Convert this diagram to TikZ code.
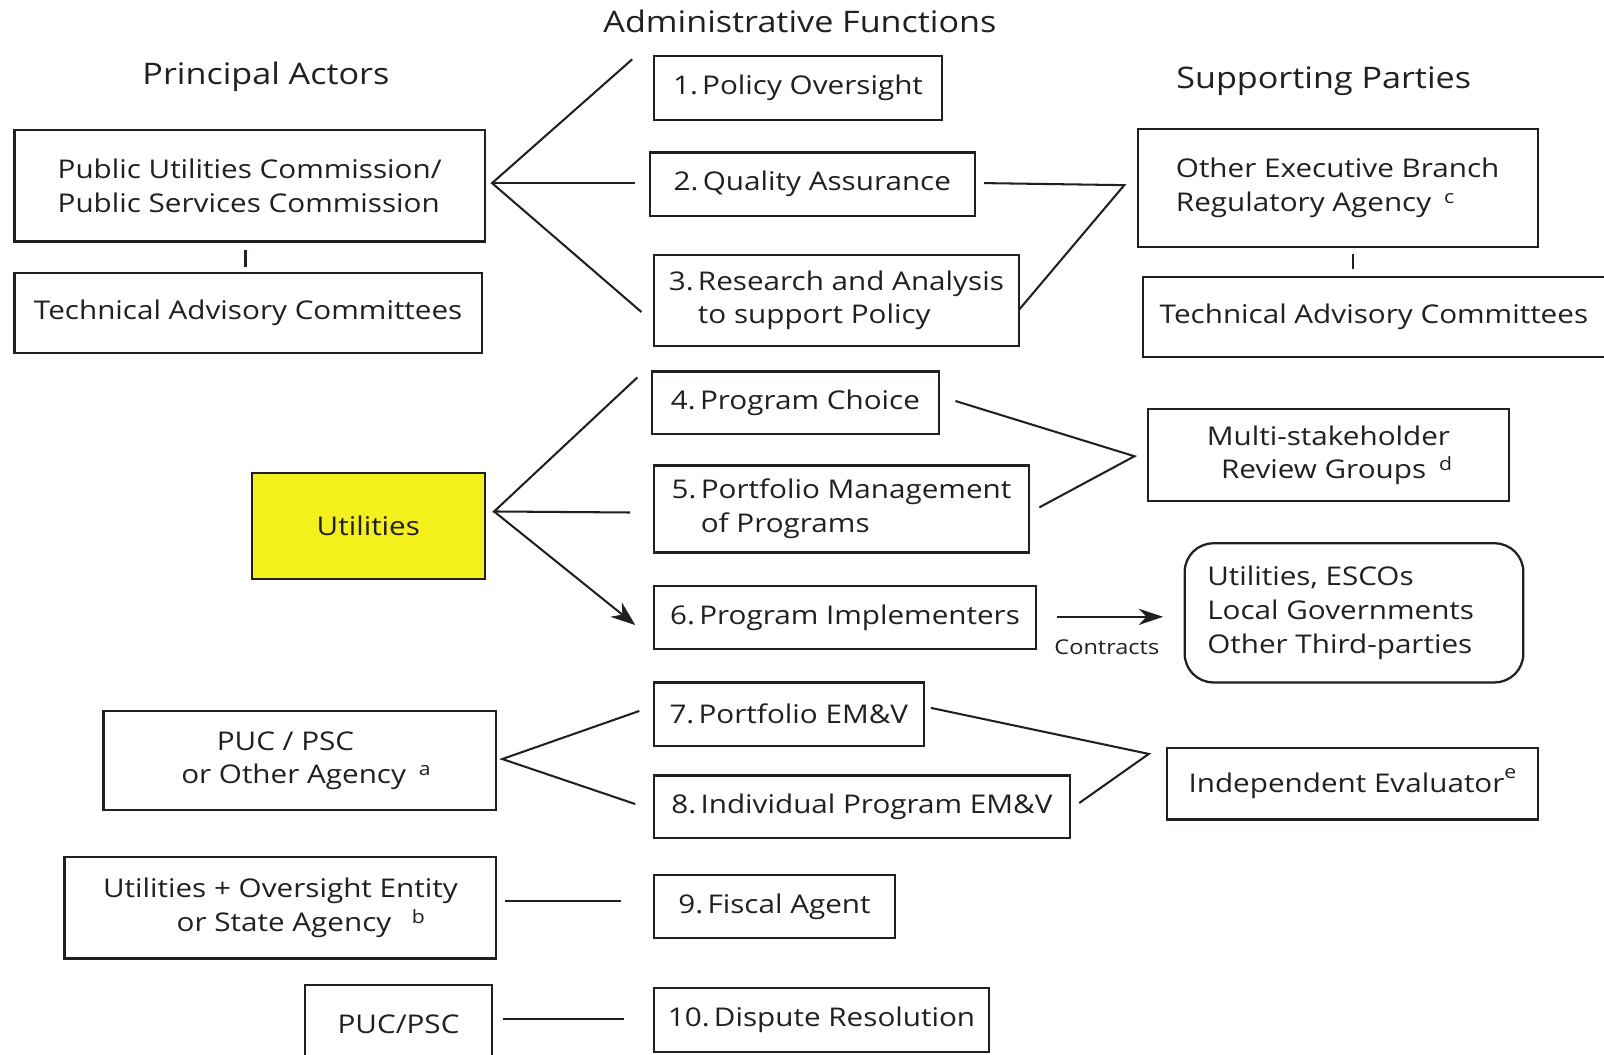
\documentclass[tikz,border=0pt]{standalone}
\usepackage{fontspec}
\setmainfont{Open Sans}[FakeStretch=1.15]
\usetikzlibrary{arrows.meta}
\definecolor{ink}{RGB}{35,31,32}
\definecolor{uyellow}{RGB}{243,240,28}
\newcommand\supx[2][0.32em]{\raisebox{#1}{\fontsize{9}{9}\selectfont #2}}
\begin{document}
\begin{tikzpicture}[x=0.5pt,y=-0.5pt,
  every node/.style={text=ink, font=\fontsize{12.6}{16.5}\selectfont},
  box/.style 2 args={draw=ink, line width=1.1pt, anchor=north west, inner sep=0pt,
    minimum width=#1*0.5pt, minimum height=#2*0.5pt, align=center},
  ttl/.style={font=\fontsize{14.5}{17}\selectfont},
  conn/.style={draw=ink, line width=1pt}]
\clip (0,0) rectangle (1568,1031);
\fill[white] (0,0) rectangle (1568,1031);

% titles
\node[ttl] (tAF) at (782,21) {Administrative Functions};
\node[ttl] (tPA) at (260,75) {Principal Actors};
\node[ttl] (tSP) at (1294,79) {Supporting Parties};

% left column
\node[box={460}{109}, align=left] (puc) at (13,126) {Public Utilities Commission/\\Public Services Commission};
\node[box={457}{78}] (tacL) at (13,266) {Technical Advisory Committees};
\node[box={228}{104}, fill=uyellow] (util) at (245,461) {Utilities};
\node[box={384}{97}] (agency) at (100,694) {PUC / PSC\hspace*{14pt}\\ \hspace*{6pt}or Other Agency\hspace{0.5em}\supx{a}};
\node[box={422}{99}] (uo) at (62,837) {Utilities + Oversight Entity\\ \hspace*{20pt}or State Agency\hspace{0.8em}\supx{b}};
\node[box={183}{76}] (pp) at (297,962) {PUC/PSC};

% middle column
\node[box={282}{62}] (b1) at (638,54) {1.\,Policy Oversight};
\node[box={318}{62}] (b2) at (634,148) {2.\,Quality Assurance};
\node[box={357}{89}, align=left] (b3) at (638,248) {3.\,Research and Analysis\\\phantom{3.\,}to support Policy};
\node[box={281}{61}] (b4) at (636,362) {4.\,Program Choice};
\node[box={367}{85}, align=left] (b5) at (638,454) {5.\,Portfolio Management\\\phantom{5.\,}of Programs};
\node[box={374}{61}] (b6) at (638,572) {6.\,Program Implementers};
\node[box={264}{62}] (b7) at (638,666) {7.\,Portfolio EM\&V};
\node[box={407}{61}] (b8) at (638,757) {8.\,Individual Program EM\&V};
\node[box={236}{62}] (b9) at (638,854) {9.\,Fiscal Agent};
\node[box={328}{62}] (b10) at (638,965) {10.\,Dispute Resolution};

% right column
\node[box={391}{115}, align=left] (oeb) at (1111,125) {Other Executive Branch\\Regulatory Agency\hspace{0.5em}\supx{c}};
\node[box={460}{78}] (tacR) at (1116,270) {\hspace*{-4pt}Technical Advisory Committees};
\node[box={353}{90}] (msr) at (1121,399) {Multi-stakeholder\\\hspace*{8pt}Review Groups\hspace{0.5em}\supx{d}};
\node[box={331}{136}, rounded corners=14pt, align=left] (esco) at (1157,530) {\hspace*{-13pt}Utilities, ESCOs\\\hspace*{-13pt}Local Governments\\\hspace*{-13pt}Other Third-parties};
\node[box={362}{70}] (ie) at (1140,730) {Independent Evaluator\supx[0.55em]{e}};
\node[font=\fontsize{10}{12}\selectfont] (ctr) at (1082,633) {Contracts};

% junction coordinates
\coordinate (f1) at (481,179);
\coordinate (f1a) at (618,58);
\coordinate (f1b) at (621,179);
\coordinate (f1c) at (627,305);
\coordinate (f2) at (483,500);
\coordinate (f2a) at (623,369);
\coordinate (f2b) at (616,501);
\coordinate (f2c) at (621,611);
\coordinate (f3) at (491,742);
\coordinate (f3a) at (625,695);
\coordinate (f3b) at (621,786);
\coordinate (q0) at (962,179);
\coordinate (j1) at (1099,181);
\coordinate (q1) at (996,303);
\coordinate (p0) at (934,392);
\coordinate (j2) at (1109,446);
\coordinate (p1) at (1016,496);
\coordinate (e0) at (910,692);
\coordinate (j3) at (1123,737);
\coordinate (e1) at (1055,785);
\coordinate (g0) at (494,881);
\coordinate (g1) at (607,881);
\coordinate (h0) at (492,996);
\coordinate (h1) at (610,996);
\coordinate (k1a) at (240,244);
\coordinate (k1b) at (240,261);
\coordinate (k2a) at (1323,248);
\coordinate (k2b) at (1323,263);
\coordinate (c0) at (1033,603);
\coordinate (c1) at (1137,603);

% connectors
\draw[conn] (f1a) -- (f1) -- (f1c);
\draw[conn] (f1) -- (f1b);
\draw[conn] (f2a) -- (f2) -- (f2b);
\draw[conn, -{Stealth[length=12pt,width=9pt]}] (f2) -- (f2c);
\draw[conn] (f3a) -- (f3) -- (f3b);
\draw[conn] (q0) -- (j1) -- (q1);
\draw[conn] (p0) -- (j2) -- (p1);
\draw[conn] (e0) -- (j3) -- (e1);
\draw[conn] (g0) -- (g1);
\draw[conn] (h0) -- (h1);
\draw[conn] (k1a) -- (k1b);
\draw[conn] (k2a) -- (k2b);
\draw[conn, -{Stealth[length=12pt,width=8pt]}] (c0) -- (c1);
\end{tikzpicture}
\end{document}
